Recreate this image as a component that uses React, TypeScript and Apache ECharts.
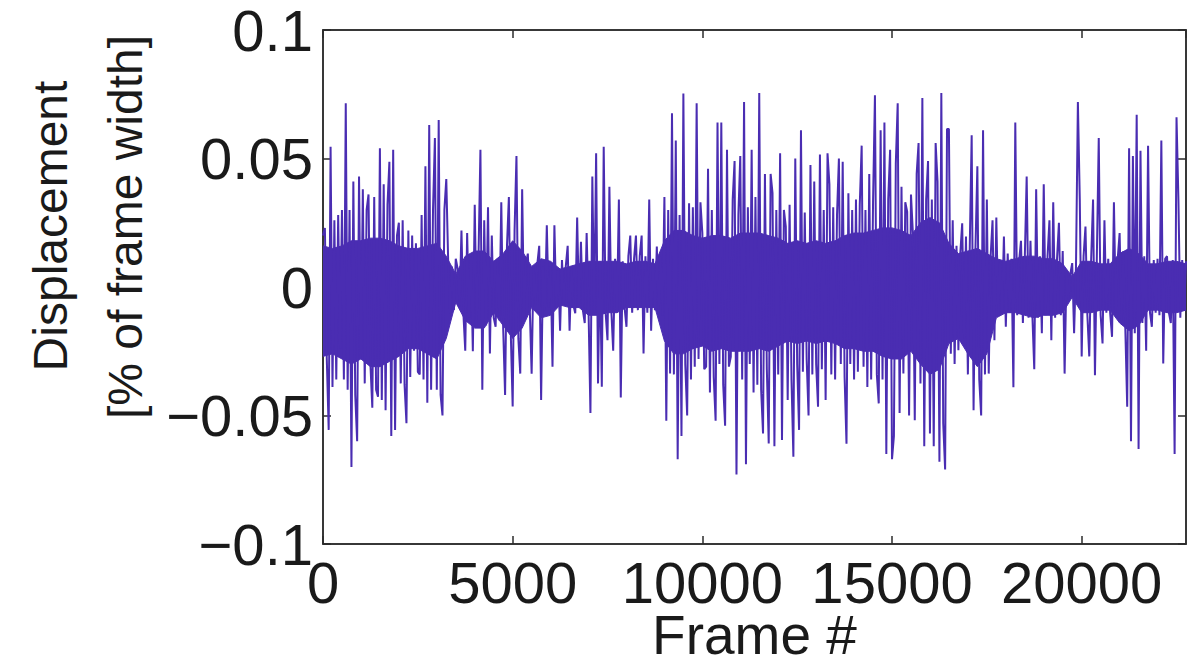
import React, { useEffect, useRef } from "react";
import * as echarts from "echarts";

const frameStep = 50;
const frameMax = 22750;

const displacement: number[] = [
  // 0 - 950
  0.020, 0.023, -0.028, -0.0556, 0.0546, -0.0389, 0.026, -0.036, 0.028, -0.024,
  0.030, -0.036, 0.0715, -0.040, 0.030, -0.070, 0.041, -0.042, -0.060, 0.043,
  // 1000 - 1950
  -0.028, 0.038, -0.0375, 0.030, 0.036, -0.030, -0.047, 0.035, -0.040, -0.0427,
  0.054, -0.044, 0.040, -0.048, 0.032, 0.0487, -0.058, 0.0534, -0.0556, 0.020,
  // 2000 - 2950
  0.025, -0.0375, 0.026, -0.038, -0.053, 0.022, -0.035, 0.020, -0.0248, 0.017,
  -0.033, -0.034, 0.028, -0.036, 0.047, -0.045, 0.063, -0.040, 0.030, 0.058,
  // 3000 - 3950
  -0.040, 0.065, -0.042, -0.050, 0.030, 0.042, 0.010, -0.0102, 0.008, -0.009,
  0.011, 0.007, -0.0075, 0.022, -0.010, -0.0248, 0.021, -0.012, 0.012, -0.025,
  // 4000 - 4950
  0.032, -0.014, 0.012, 0.0534, -0.040, 0.026, -0.015, 0.031, -0.0259, 0.020,
  -0.012, -0.0155, 0.011, -0.013, 0.033, -0.016, -0.042, 0.016, 0.035, -0.018,
  // 5000 - 5950
  -0.0465, 0.022, 0.051, -0.020, -0.0337, 0.038, -0.012, 0.009, 0.013, -0.008,
  -0.0337, 0.008, -0.007, 0.009, 0.016, -0.044, 0.008, -0.009, 0.024, -0.008,
  // 6000 - 6950
  0.008, -0.031, 0.024, -0.008, 0.007, -0.017, 0.0105, -0.007, 0.008, 0.016,
  -0.017, 0.008, -0.007, -0.0102, 0.027, -0.008, 0.0176, -0.009, -0.014, 0.021,
  // 7000 - 7950
  -0.009, -0.049, 0.043, -0.010, 0.052, -0.0375, 0.010, -0.0388, 0.0546, -0.010,
  -0.0207, 0.039, -0.009, -0.0248, 0.011, -0.009, 0.034, -0.043, 0.010, -0.008,
  // 8000 - 8950
  -0.0155, 0.012, 0.020, -0.010, 0.011, 0.020, -0.009, 0.012, 0.020, -0.0259,
  0.012, -0.010, 0.034, -0.017, 0.011, -0.009, 0.0157, -0.010, 0.012, -0.011,
  // 9000 - 9950
  0.035, -0.052, 0.030, -0.0337, 0.0676, -0.034, 0.057, -0.067, 0.028, -0.058,
  0.0753, -0.030, -0.050, 0.0326, -0.036, 0.031, -0.031, 0.0715, -0.028, 0.033,
  // 10000 - 10950
  0.021, -0.032, -0.031, 0.046, -0.041, 0.030, -0.035, -0.052, 0.064, -0.030,
  0.064, -0.038, -0.054, 0.0534, -0.031, -0.0272, 0.034, 0.049, -0.073, 0.028,
  // 11000 - 11950
  0.051, -0.036, 0.072, -0.069, 0.031, -0.030, 0.0534, -0.041, 0.035, -0.038,
  0.0755, -0.040, -0.057, 0.044, -0.032, -0.0609, 0.044, 0.0365, -0.062, 0.030,
  // 12000 - 12950
  -0.034, 0.052, -0.0595, 0.030, 0.0235, -0.044, 0.032, -0.036, -0.066, 0.050,
  -0.030, -0.0556, 0.061, -0.033, 0.029, -0.028, -0.050, 0.0475, -0.034, 0.041,
  // 13000 - 13950
  -0.030, -0.0466, 0.0516, -0.032, 0.030, -0.044, 0.052, 0.040, -0.034, 0.031,
  -0.036, 0.028, 0.050, -0.030, 0.0487, -0.035, -0.061, 0.0365, -0.030, 0.030,
  // 14000 - 14950
  -0.036, 0.034, -0.033, 0.032, 0.055, -0.031, 0.030, -0.0389, 0.044, -0.036,
  0.033, 0.0746, -0.034, -0.0453, 0.061, -0.036, 0.064, -0.065, 0.034, 0.0534,
  // 15000 - 15950
  -0.067, -0.058, 0.048, 0.0715, -0.049, 0.039, -0.0337, 0.033, 0.0293, -0.050,
  0.036, 0.021, -0.0518, 0.044, 0.056, -0.0375, 0.0735, -0.062, 0.034, 0.049,
  // 16000 - 16950
  -0.057, 0.034, -0.062, 0.056, 0.041, -0.068, 0.0755, -0.053, -0.071, 0.0615,
  0.0615, -0.026, 0.026, -0.030, 0.016, -0.0246, 0.013, 0.0248, -0.020, 0.0196,
  // 17000 - 17950
  -0.034, 0.016, 0.059, -0.048, 0.015, 0.047, -0.036, -0.050, 0.061, -0.034,
  0.034, -0.0337, 0.012, 0.026, -0.0207, 0.027, -0.011, 0.010, -0.010, 0.0196,
  // 18000 - 18950
  -0.0155, 0.013, -0.010, 0.011, -0.039, 0.064, -0.011, 0.010, 0.018, -0.014,
  0.011, 0.043, -0.012, 0.018, -0.011, -0.032, 0.038, -0.012, 0.012, -0.018,
  // 19000 - 19950
  0.040, -0.011, 0.012, 0.026, -0.0207, 0.033, -0.012, 0.011, 0.025, -0.011,
  0.014, -0.0337, 0.006, -0.005, 0.005, 0.0093, -0.018, 0.008, 0.072, 0.034,
  // 20000 - 20950
  -0.027, 0.012, 0.0235, -0.011, -0.027, 0.011, 0.034, -0.0343, 0.012, 0.058,
  -0.011, -0.022, 0.026, -0.010, 0.011, -0.010, -0.0194, 0.033, -0.010, 0.011,
  // 21000 - 21950
  0.021, -0.013, 0.014, -0.016, -0.0466, 0.054, -0.060, 0.051, -0.018, 0.067,
  -0.063, 0.053, -0.014, 0.012, -0.0248, 0.055, -0.010, -0.0155, 0.0105, -0.010,
  // 22000 - 22750
  0.011, -0.011, 0.057, -0.0298, 0.011, 0.012, -0.010, -0.014, 0.0105, -0.065,
  0.066, 0.034, -0.012, 0.0105, -0.0088, 0.010,
];

// Dense oscillation core (solid band) read every `coreStep` frames
const coreStep = 250;
const coreUpper: number[] = [
  0.016, 0.015, 0.016, 0.018, 0.018, 0.019, 0.019, 0.018, 0.016, 0.015,
  0.015, 0.016, 0.017, 0.012, 0.005, 0.012, 0.014, 0.014, 0.010, 0.013,
  0.018, 0.014, 0.008, 0.011, 0.010, 0.007, 0.008, 0.009, 0.010, 0.010,
  0.010, 0.010, 0.009, 0.010, 0.010, 0.009, 0.018, 0.022, 0.022, 0.020,
  0.019, 0.020, 0.020, 0.019, 0.021, 0.021, 0.021, 0.020, 0.019, 0.017,
  0.018, 0.017, 0.018, 0.017, 0.018, 0.020, 0.021, 0.021, 0.022, 0.023,
  0.023, 0.022, 0.020, 0.025, 0.027, 0.025, 0.017, 0.013, 0.014, 0.015,
  0.013, 0.011, 0.010, 0.011, 0.012, 0.012, 0.011, 0.011, 0.009, 0.004,
  0.010, 0.010, 0.009, 0.009, 0.013, 0.015, 0.013, 0.009, 0.009, 0.010,
  0.010, 0.009,
];
const coreLower: number[] = [
  -0.027, -0.026, -0.028, -0.030, -0.028, -0.031, -0.031, -0.029, -0.027, -0.024,
  -0.024, -0.026, -0.028, -0.020, -0.006, -0.013, -0.016, -0.016, -0.010, -0.015,
  -0.020, -0.016, -0.008, -0.012, -0.011, -0.007, -0.008, -0.008, -0.011, -0.011,
  -0.010, -0.010, -0.008, -0.008, -0.008, -0.008, -0.021, -0.026, -0.026, -0.024,
  -0.023, -0.025, -0.024, -0.025, -0.025, -0.025, -0.024, -0.025, -0.023, -0.021,
  -0.022, -0.021, -0.022, -0.021, -0.022, -0.024, -0.024, -0.025, -0.025, -0.027,
  -0.028, -0.028, -0.025, -0.030, -0.034, -0.032, -0.022, -0.020, -0.026, -0.031,
  -0.026, -0.012, -0.010, -0.010, -0.011, -0.012, -0.011, -0.011, -0.010, -0.004,
  -0.010, -0.010, -0.009, -0.009, -0.014, -0.017, -0.015, -0.009, -0.009, -0.010,
  -0.010, -0.009,
];

const xTickValues = [0, 5000, 10000, 15000, 20000];
const yTickValues = [-0.1, -0.05, 0, 0.05, 0.1];

const xTitle = "Frame #";
const yTitleLine1 = "Displacement";
const yTitleLine2 = "[% of frame width]";

const LINE_COLOR = "#4a2db2";
const AXIS_COLOR = "#2b2b2b";
const FONT = "'Liberation Sans', Arial, Helvetica, sans-serif";

function fmtY(v: number): string {
  const r = Math.round(v * 1000) / 1000;
  if (!yTickValues.some((t) => Math.abs(t - r) < 1e-9)) return "";
  if (r === 0) return "0";
  const s = String(Math.abs(r));
  return (r < 0 ? "\u2212" : "") + s;
}

function fmtX(v: number): string {
  return xTickValues.includes(Math.round(v)) ? String(Math.round(v)) : "";
}

export default function App() {
  const ref = useRef<HTMLDivElement>(null);

  useEffect(() => {
    document.body.style.margin = "0";
    if (!ref.current) return;
    const chart = echarts.init(ref.current, undefined, { renderer: "svg" });

    const data = displacement.map((v, i) => [i * frameStep, v]);
    const upperData = coreUpper.map((v, i) => [i * coreStep, v]);
    const lowerData = coreLower.map((v, i) => [i * coreStep, v]);

    const left = 323;
    const right = 1186;
    const top = 30;
    const bottom = 544;

    const tickStyle = { show: true, inside: true, length: 8, lineStyle: { color: AXIS_COLOR, width: 1.5 } };
    const axisCommon = {
      type: "value" as const,
      axisLine: { show: true, onZero: false, lineStyle: { color: AXIS_COLOR, width: 1.5 } },
      splitLine: { show: false },
    };
    const bandSeries = (d: number[][]) => ({
      type: "line",
      xAxisIndex: 0,
      yAxisIndex: 0,
      data: d,
      showSymbol: false,
      symbol: "none",
      lineStyle: { color: LINE_COLOR, width: 1 },
      areaStyle: { color: LINE_COLOR, opacity: 1, origin: 0 },
      clip: true,
      z: 1,
      silent: true,
    });

    chart.setOption({
      animation: false,
      backgroundColor: "#ffffff",
      grid: {
        left,
        top,
        width: right - left,
        height: bottom - top,
        show: true,
        borderColor: AXIS_COLOR,
        borderWidth: 1.5,
        backgroundColor: "transparent",
        containLabel: false,
        outerBoundsMode: "none",
      },
      xAxis: [
        {
          ...axisCommon,
          position: "bottom",
          min: 0,
          max: frameMax,
          interval: 5000,
          axisTick: tickStyle,
          axisLabel: {
            show: true,
            formatter: fmtX,
            showMaxLabel: false,
            color: "#1a1a1a",
            fontFamily: FONT,
            fontSize: 58,
            lineHeight: 44,
            margin: 16,
          },
          name: xTitle,
          nameLocation: "middle",
          nameGap: 70,
          nameMoveOverlap: false,
          nameTextStyle: { color: "#1a1a1a", fontFamily: FONT, fontSize: 55, lineHeight: 42 },
        },
        {
          ...axisCommon,
          position: "top",
          min: 0,
          max: frameMax,
          interval: 5000,
          axisTick: tickStyle,
          axisLabel: { show: false },
        },
      ],
      yAxis: [
        {
          ...axisCommon,
          position: "left",
          min: -0.1,
          max: 0.1,
          interval: 0.05,
          axisTick: tickStyle,
          axisLabel: {
            show: true,
            formatter: fmtY,
            color: "#1a1a1a",
            fontFamily: FONT,
            fontSize: 58,
            lineHeight: 50,
            padding: [4, 0, 0, 0],
            margin: 10,
          },
        },
        {
          ...axisCommon,
          position: "right",
          min: -0.1,
          max: 0.1,
          interval: 0.05,
          axisTick: tickStyle,
          axisLabel: { show: false },
        },
      ],
      graphic: [
        {
          type: "text",
          x: 50,
          y: 226,
          rotation: Math.PI / 2,
          style: {
            text: yTitleLine1,
            fill: "#1a1a1a",
            font: `48px ${FONT}`,
            align: "center",
            verticalAlign: "middle",
          },
        },
        {
          type: "text",
          x: 125,
          y: 227,
          rotation: Math.PI / 2,
          style: {
            text: yTitleLine2,
            fill: "#1a1a1a",
            font: `48px ${FONT}`,
            align: "center",
            verticalAlign: "middle",
          },
        },
      ],
      series: [
        bandSeries(upperData),
        bandSeries(lowerData),
        {
          type: "line",
          xAxisIndex: 0,
          yAxisIndex: 0,
          data,
          showSymbol: false,
          symbol: "none",
          lineStyle: { color: LINE_COLOR, width: 2 },
          clip: true,
          z: 2,
        },
      ],
    });

    return () => chart.dispose();
  }, []);

  return <div ref={ref} style={{ width: 1200, height: 665 }} />;
}
